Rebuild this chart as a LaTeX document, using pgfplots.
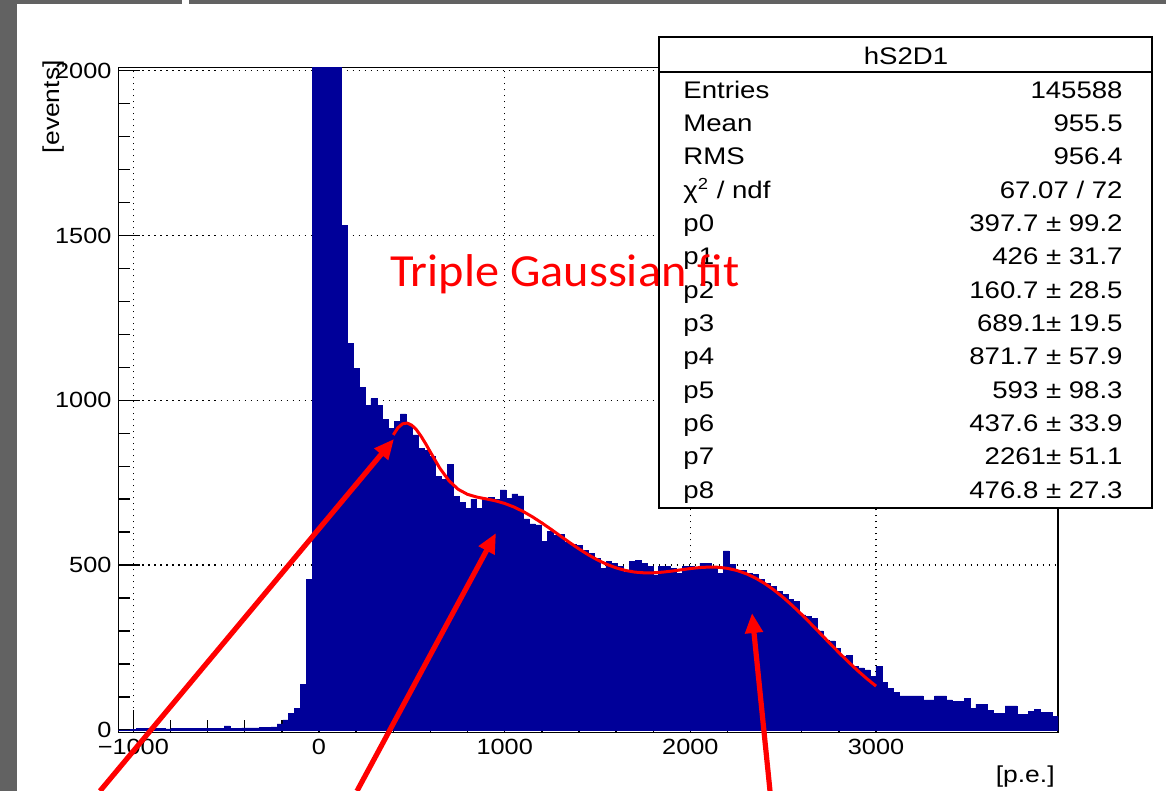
\documentclass[border=0pt]{standalone}
\usepackage{pgfplots}
\usepackage{pgfplotstable}
\pgfplotsset{compat=1.18}
\usepackage{fontspec}
\setmainfont{Liberation Sans}[FakeStretch=1.15]
\newfontfamily\redfont{Carlito}[FakeStretch=1.05]
\usetikzlibrary{arrows.meta}
\definecolor{rootblue}{RGB}{0,0,153}
\definecolor{framegray}{RGB}{98,98,98}

\pgfplotstableread{
k v
0 0
1 0
2 2
3 4
4 4
5 3
6 4
7 4
8 3
9 4
10 4
11 4
12 4
13 4
14 4
15 4
16 4
17 4
18 12
19 5
20 5
21 6
22 6
23 6
24 7
25 8
26 9
27 18
28 30
29 49
30 66
31 139
32 457
33 3000
34 5200
35 4600
36 3400
37 2400
38 1531
39 1173
40 1097
41 1038
42 985
43 1005
44 984
45 941
46 915
47 935
48 959
49 928
50 895
51 855
52 849
53 829
54 769
55 760
56 805
57 709
58 690
59 673
60 700
61 673
62 700
63 705
64 700
65 728
66 703
67 716
68 710
69 640
70 625
71 622
72 572
73 602
74 590
75 592
76 570
77 562
78 560
79 545
80 536
81 520
82 490
83 510
84 505
85 495
86 478
87 510
88 515
89 505
90 496
91 470
92 496
93 496
94 490
95 475
96 496
97 495
98 491
99 506
100 506
101 491
102 475
103 543
104 501
105 484
106 484
107 475
108 471
109 456
110 445
111 435
112 420
113 410
114 395
115 390
116 349
117 345
118 339
119 300
120 273
121 270
122 248
123 222
124 225
125 192
126 188
127 182
128 162
129 192
130 143
131 125
132 113
133 103
134 103
135 103
136 103
137 91
138 91
139 103
140 103
141 91
142 87
143 87
144 96
145 66
146 78
147 78
148 59
149 51
150 51
151 73
152 73
153 48
154 48
155 55
156 61
157 53
158 53
159 40
160 40
}\histdata

\begin{document}
\begin{tikzpicture}
\useasboundingbox (0,0) rectangle (583pt,395.5pt);
\fill[white] (0,0) rectangle (583pt,395.5pt);
\begin{axis}[
  at={(59.25pt,29.25pt)}, anchor=south west,
  scale only axis, width=469.75pt, height=332.5pt,
  xmin=-1080, xmax=3980, ymin=-8, ymax=2010,
  axis line style={line width=0.8pt, black},
  xtick={-1000,0,1000,2000,3000},
  xticklabels={−1000,0,1000,2000,3000},
  ytick={0,500,1000,1500,2000},
  yticklabels={0,500,1000,1500,2000},
  minor x tick num=4, minor y tick num=4,
  tick pos=left, tick align=inside,
  major tick length=11pt, minor tick length=6pt,
  tick style={black, line width=0.7pt},
  grid=major,
  major grid style={line width=0.6pt, black, dash pattern=on 0.6pt off 2.4pt},
  ticklabel style={font=\fontsize{11pt}{12pt}\selectfont, black},
]
\addplot[const plot, fill=rootblue, draw=rootblue, line width=0.3pt]
  table[x expr={-1080+31.625*\thisrow{k}}, y=v] {\histdata} \closedcycle;
\addplot[red, line width=1.5pt] coordinates {
(400,894.95) (425,916.8) (450,928.75) (475,931.0) (500,924.36) (525,910.4) (550,890.80) (575,867.6)
(600,842.74) (650,794.58) (700,755.82) (750,729.73) (800,714.59) (850,706.37) (900,700.89)
(950,695.06) (1000,687.09) (1050,676.25) (1100,662.50) (1150,646.22) (1200,627.97) (1250,608.43)
(1300,588.29) (1350,568.27) (1400,549.10) (1450,531.32) (1500,515.55) (1550,502.21) (1600,491.56)
(1650,483.76) (1700,478.80) (1750,476.51) (1800,476.58) (1850,478.54) (1900,481.77) (1950,485.64)
(2000,489.48) (2050,492.48) (2100,494.00) (2150,493.40) (2200,490.10) (2250,483.74) (2300,474.04)
(2350,460.86) (2400,444.29) (2450,424.50) (2500,401.82) (2550,376.72) (2600,349.72) (2650,321.40)
(2700,292.35) (2750,263.20) (2800,234.48) (2850,206.68) (2900,180.25) (2950,155.52) (3000,132.77)
};
\end{axis}
\begin{scope}[x=0.5pt, y=-0.5pt, shift={(0pt,395.5pt)}]
  % screenshot frame
  \fill[framegray] (0,0) rectangle (17,791);
  \fill[framegray] (17,0) rectangle (182,4);
  \fill[framegray] (189,0) rectangle (1166,4);
  % axis titles
  \node[rotate=90, anchor=base east, inner sep=0pt, font=\fontsize{11.5pt}{13pt}\selectfont] at (59,60) {[events]};
  \node[anchor=base east, inner sep=0pt, font=\fontsize{11.5pt}{13pt}\selectfont] at (1055,783) {[p.e.]};
  % stats box
  \filldraw[fill=white, draw=black, line width=0.8pt] (659,37) rectangle (1152,508);
  \draw[black, line width=0.8pt] (659,72) -- (1152,72);
  \node[anchor=base, inner sep=0pt, font=\fontsize{12pt}{13pt}\selectfont] at (906,65) {hS2D1};
  \foreach \lab/\val [count=\i from 0] in {
    Entries/145588, Mean/955.5, RMS/956.4, {χ\textsuperscript{2} / ndf}/{67.07 / 72},
    p0/{397.7 ± 99.2}, p1/{426 ± 31.7}, p2/{160.7 ± 28.5}, p3/{689.1± 19.5},
    p4/{871.7 ± 57.9}, p5/{593 ± 98.3}, p6/{437.6 ± 33.9}, p7/{2261± 51.1}, p8/{476.8 ± 27.3}} {
    \node[anchor=base west, inner sep=0pt, font=\fontsize{12pt}{13pt}\selectfont] at (683,98.3+33.33*\i) {\lab};
    \node[anchor=base east, inner sep=0pt, font=\fontsize{12pt}{13pt}\selectfont] at (1123,98.3+33.33*\i) {\val};
  }
  % annotation
  \node[anchor=base west, inner sep=0pt, text=red, font=\redfont\fontsize{23pt}{27pt}\selectfont] at (390,287) {Triple Gaussian fit};
  \draw[red, line width=2.6pt, -{Triangle[length=10pt,width=8.5pt]}] (100,791) -- (394,439);
  \draw[red, line width=2.6pt, -{Triangle[length=10pt,width=8.5pt]}] (357,791) -- (496,533);
  \draw[red, line width=2.6pt, -{Triangle[length=10pt,width=8.5pt]}] (770,791) -- (752,613);
\end{scope}
\end{tikzpicture}
\end{document}
